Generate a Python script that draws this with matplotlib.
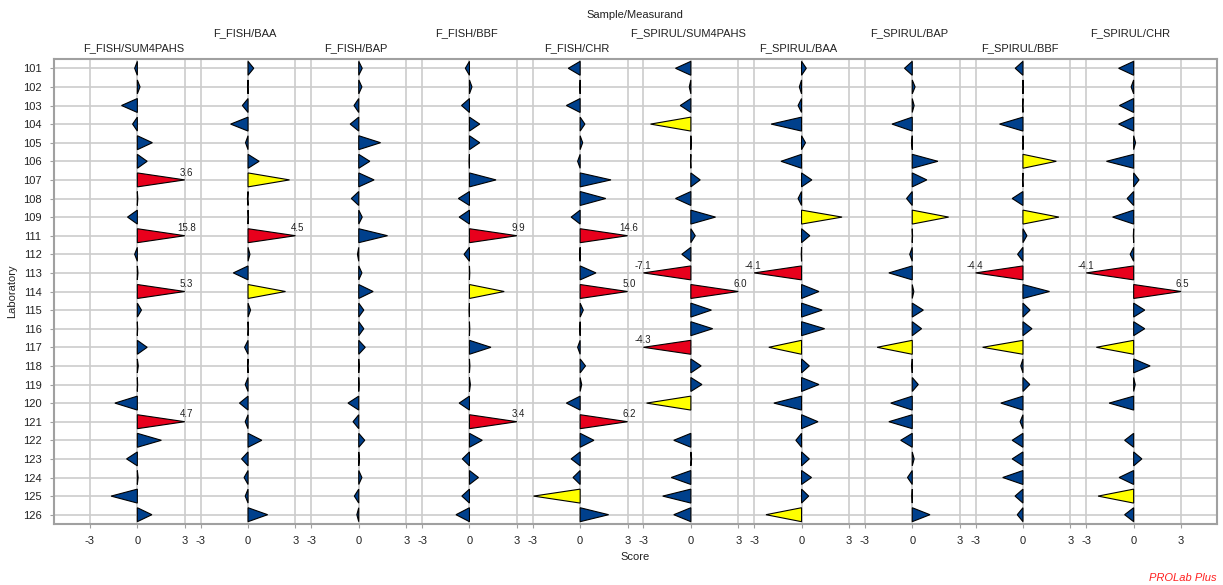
import matplotlib
matplotlib.use("Agg")
import matplotlib.pyplot as plt
from matplotlib.patches import Polygon
from matplotlib.transforms import blended_transform_factory
import numpy as np

plt.rcParams['font.family'] = ['Liberation Sans', 'DejaVu Sans']

labs = ['101', '102', '103', '104', '105', '106', '107', '108', '109', '111', '112', '113',
        '114', '115', '116', '117', '118', '119', '120', '121', '122', '123', '124', '125', '126']

measurands = ['F_FISH/SUM4PAHS', 'F_FISH/BAA', 'F_FISH/BAP', 'F_FISH/BBF', 'F_FISH/CHR',
              'F_SPIRUL/SUM4PAHS', 'F_SPIRUL/BAA', 'F_SPIRUL/BAP', 'F_SPIRUL/BBF', 'F_SPIRUL/CHR']

nan = np.nan
fish_sum = [-0.17, 0.17, -1.0, -0.3, 0.95, 0.62, 3.6, 0.03, -0.62, 15.8, -0.17, 0.04, 5.3,
            0.26, 0.02, 0.62, 0.06, 0.02, -1.42, 4.7, 1.52, -0.68, 0.05, -1.66, 0.92]
fish_baa = [0.36, -0.02, -0.36, -1.1, -0.16, 0.7, 2.62, -0.04, 0.02, 4.5, 0.12, -0.93, 2.37,
            0.16, 0.02, -0.22, -0.03, -0.18, -0.54, -0.18, 0.87, -0.41, -0.25, -0.18, 1.24]
fish_bap = [0.22, 0.2, -0.3, -0.54, 1.38, 0.7, 0.97, -0.47, 0.22, 1.82, -0.08, 0.2, 0.91,
            0.32, 0.32, 0.41, 0.03, 0.02, -0.68, -0.36, 0.38, 0.05, 0.2, -0.28, -0.12]
fish_bbf = [-0.26, 0.16, -0.5, 0.65, 0.65, -0.02, 1.68, -0.7, -0.65, 9.9, -0.34, 0.02, 2.2,
            -0.02, 0.02, 1.36, 0.03, 0.06, -0.65, 3.4, 0.81, -0.45, 0.57, -0.48, -0.85]
fish_chr = [-0.75, -0.02, -0.87, 0.3, 0.16, -0.16, 1.95, 1.62, -0.57, 14.6, -0.03, 1.0, 5.0,
            0.2, -0.02, -0.16, 0.34, 0.1, -0.87, 6.2, 0.87, -0.57, -0.45, -2.95, 1.8]
spir_sum = [-0.97, -0.1, -0.67, -2.55, 0.02, -0.02, 0.59, -0.97, 1.56, 0.28, -0.57, -7.1, 6.0,
            1.3, 1.38, -4.3, 0.65, 0.7, -2.8, nan, -1.08, 0.05, -1.24, -1.78, -1.08]
spir_baa = [0.3, -0.14, -0.22, -1.92, 0.25, -1.3, 0.65, -0.22, 2.56, 0.52, -0.02, -4.1, 1.1,
            1.3, 1.46, -2.07, 0.49, 1.1, -1.75, 1.04, -0.36, 0.49, 0.63, 0.45, -2.25]
spir_bap = [-0.49, 0.18, 0.12, -1.28, -0.04, 1.62, 0.92, -0.36, 2.3, 0.02, -0.16, -1.48, 0.1,
            0.7, 0.59, -2.22, -0.03, 0.38, -1.36, -1.48, -0.73, 0.12, -0.3, -0.02, 1.12]
spir_bbf = [-0.49, 0.02, -0.02, -1.48, 0.02, 2.11, -0.02, -0.68, 2.27, 0.25, -0.34, -4.4, 1.68,
            0.45, 0.57, -2.55, -0.14, 0.43, -1.4, -0.18, -0.68, -0.68, -1.28, -0.5, -0.36]
spir_chr = [-0.95, -0.16, -0.9, -0.95, 0.12, -1.72, 0.34, -0.41, -1.33, -0.02, -0.22, -4.1, 6.5,
            0.7, 0.7, -2.36, 1.04, 0.1, -1.55, nan, -0.57, 0.52, -0.92, -2.25, -0.57]

scores = [fish_sum, fish_baa, fish_bap, fish_bbf, fish_chr,
          spir_sum, spir_baa, spir_bap, spir_bbf, spir_chr]

step = 7.0
half = 0.375
blue, yellow, red = '#00408C', '#FFFF00', '#E8001C'
fs = 8

fig = plt.figure(figsize=(12.23, 5.85), dpi=100)
ax = fig.add_axes([54 / 1223, 1 - 524 / 585, (1217 - 54) / 1223, (524 - 59) / 585])

for k, vals in enumerate(scores):
    off = k * step
    for i, v in enumerate(vals):
        if np.isnan(v):
            continue
        a = abs(v)
        col = blue if a <= 2 else (yellow if a < 3 else red)
        d = max(-3.0, min(3.0, v))
        tri = Polygon([(off, i - half), (off + d, i), (off, i + half)], closed=True,
                      facecolor=col, edgecolor='black', linewidth=0.8, zorder=3)
        ax.add_patch(tri)
        if a >= 3:
            ax.text(off + d + (0.1 if d > 0 else -0.05), i - 0.12, f'{v:.1f}',
                    ha='center', va='bottom', fontsize=7, color='#222222', zorder=4)

xt, xl = [], []
for k in range(len(measurands)):
    for t in (-3, 0, 3):
        xt.append(k * step + t)
        xl.append(str(t))
ax.set_xticks(xt)
ax.set_xticklabels(xl, fontsize=fs)
ax.set_yticks(range(len(labs)))
ax.set_yticklabels(labs, fontsize=fs)
ax.set_xlim(-5.27, (len(measurands) - 1) * step + 5.27)
ax.set_ylim(len(labs) - 0.5, -0.5)
ax.grid(True, color='#cccccc', linewidth=1.2, zorder=0)
ax.set_axisbelow(True)
for s in ax.spines.values():
    s.set_color('#a0a0a0')
    s.set_linewidth(1.5)
ax.tick_params(colors='#a0a0a0', labelcolor='#222222', length=3, pad=6)

tr = blended_transform_factory(ax.transData, fig.transFigure)
for k, name in enumerate(measurands):
    y = 1 - 48 / 585 if k % 2 == 0 else 1 - 33 / 585
    ax.text(k * step - 0.2, y, name, transform=tr, ha='center', va='center',
            fontsize=fs, color='#222222')

fig.text(635 / 1223, 1 - 15 / 585, 'Sample/Measurand', ha='center', va='center',
         fontsize=fs, color='#222222')
fig.text(635 / 1223, 1 - 557 / 585, 'Score', ha='center', va='center',
         fontsize=fs, color='#222222')
fig.text(12 / 1223, 1 - 291 / 585, 'Laboratory', ha='center', va='center', rotation=90,
         fontsize=fs, color='#222222')
fig.text(1217 / 1223, 1 - 578 / 585, 'PROLab Plus', ha='right', va='center',
         fontsize=fs, color='#FF2020', style='italic')

fig.savefig('out.png', dpi=100)
